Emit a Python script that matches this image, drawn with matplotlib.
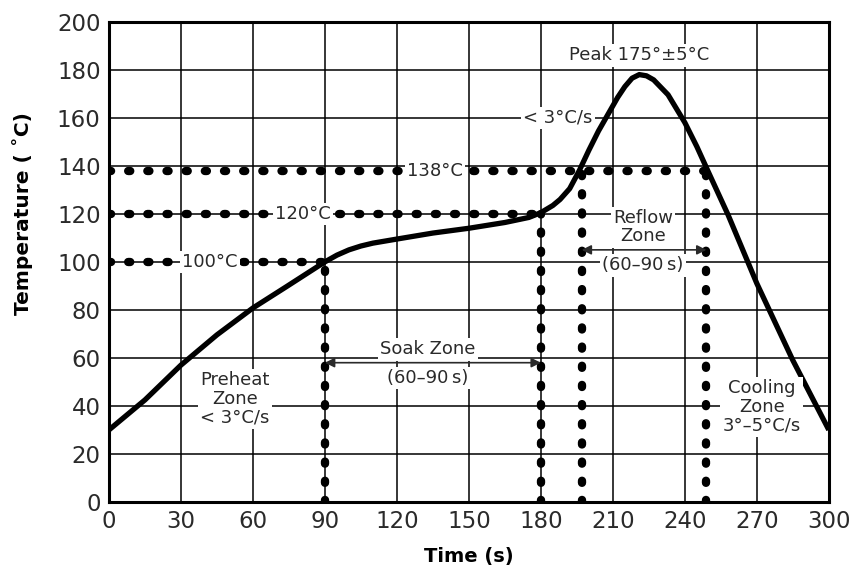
import numpy as np
import matplotlib.pyplot as plt

# reflow profile
time_s = [0, 15, 30, 45, 60, 74, 90, 95, 100, 105, 110, 120, 135, 150, 165,
          175, 180, 185, 188, 192, 196, 200, 204, 208, 212, 215, 218, 221,
          224, 227, 233, 240, 245, 250, 258, 270, 285, 300]
temp_c = [30, 42.5, 57, 69.6, 80.8, 89.7, 100, 102.8, 105, 106.6, 107.8,
          109.5, 112, 114, 116.4, 118.5, 120.5, 123.5, 126, 130.5, 138, 146.5,
          154.5, 161.5, 168.5, 173, 176.5, 178, 177.5, 175.8, 169.6, 158, 148,
          137, 119.6, 91, 59, 30]

x_ticks = list(range(0, 301, 30))
y_ticks = list(range(0, 201, 20))

# dotted guide levels
levels = [100, 120, 138]
level_ends = [90, 180, 249]
level_labels = ['100°C', '120°C', '138°C']
level_label_x = [42, 81, 136]
reflow_start = 197

plt.rcParams['font.family'] = ['DejaVu Sans']

fig = plt.figure(figsize=(8.58, 5.73), dpi=100)
ax = fig.add_axes([0.127, 0.124, 0.839, 0.838])

ax.set_xlim(0, 300)
ax.set_ylim(0, 200)
ax.set_xticks(x_ticks)
ax.set_yticks(y_ticks)
ax.tick_params(length=0, labelsize=16.5, pad=6, colors='#2a2a2a')
ax.grid(True, color='black', linewidth=1.1)
ax.set_axisbelow(True)
for sp in ax.spines.values():
    sp.set_linewidth(2.2)

dot_kw = dict(color='black', linewidth=6.0, linestyle=(0, (0.25, 2.05)),
              dash_capstyle='round', zorder=3)

for lvl, end in zip(levels, level_ends):
    ax.plot([0, end], [lvl, lvl], **dot_kw)
for xv, top in zip([90, 180, reflow_start, 249], [100, 120, 138, 138]):
    ax.plot([xv, xv], [0, top], **dot_kw)

ax.plot(time_s, temp_c, color='black', linewidth=3.8, zorder=4,
        solid_joinstyle='round', solid_capstyle='butt')

box = dict(facecolor='white', edgecolor='none', pad=1.5)
txt_kw = dict(fontsize=13, ha='center', va='center', color='#2a2a2a', zorder=5,
              linespacing=1.05)

for lbl, lx, lvl in zip(level_labels, level_label_x, levels):
    ax.text(lx, lvl, lbl, bbox=box, **txt_kw)

ax.text(221, 186, 'Peak 175°±5°C', bbox=box, **txt_kw)
ax.text(187, 160, '< 3°C/s', bbox=box, **txt_kw)
ax.text(52.5, 43, 'Preheat\nZone\n< 3°C/s', bbox=box, **txt_kw)
ax.text(272, 39.6, 'Cooling\nZone\n3°–5°C/s', bbox=box, **txt_kw)

# soak zone
arrow = dict(arrowstyle='<|-|>', color='#2a2a2a', lw=1.2, mutation_scale=14,
             shrinkA=0, shrinkB=0)
ax.annotate('', xy=(90, 58), xytext=(180, 58), arrowprops=arrow, zorder=5)
ax.text(133, 63.5, 'Soak Zone', bbox=box, **txt_kw)
ax.text(133, 51.5, '(60–90\u2009s)', bbox=box, **txt_kw)

# reflow zone
ax.annotate('', xy=(reflow_start, 105), xytext=(249, 105), arrowprops=arrow,
            zorder=5)
ax.text(222.5, 114.5, 'Reflow\nZone', bbox=box, **txt_kw)
ax.text(222.5, 98.5, '(60–90\u2009s)', bbox=box, **txt_kw)

ax.set_xlabel('Time (s)', fontsize=14, fontweight='bold', labelpad=10)
ax.set_ylabel('Temperature ( ˚C)', fontsize=14.5, fontweight='bold')
ax.yaxis.set_label_coords(-0.105, 0.6)

fig.savefig('out.png', dpi=100)
plt.close(fig)
